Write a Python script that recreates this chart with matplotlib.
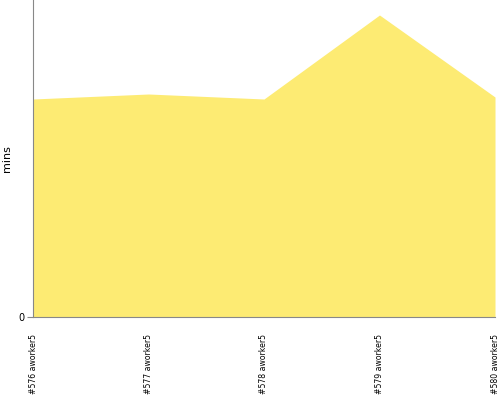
import matplotlib
matplotlib.use("Agg")
import matplotlib.pyplot as plt

# build runs and their durations (mins)
builds = ["#576 aworker5", "#577 aworker5", "#578 aworker5", "#579 aworker5", "#580 aworker5"]
mins = [21.8, 22.3, 21.8, 30.2, 22.0]
y_top = 31.7

fig = plt.figure(figsize=(5, 4), dpi=100)
ax = fig.add_axes([0.066, 0.2075, 0.924, 0.7925])

x = list(range(len(builds)))
ax.fill_between(x, mins, 0, color="#fdeb73", linewidth=0)

ax.set_xlim(0, len(builds) - 1)
ax.set_ylim(0, y_top)
ax.set_xticks(x)
ax.set_xticklabels(builds, rotation=90, fontsize=5.6)
ax.set_yticks([0])
ax.set_yticklabels(["0"], fontsize=7)
ax.set_ylabel("mins", fontsize=8, labelpad=5)

for side in ["top", "right"]:
    ax.spines[side].set_visible(False)
for side in ["left", "bottom"]:
    ax.spines[side].set_color("#888888")
ax.tick_params(axis="x", length=0, pad=12)
ax.tick_params(axis="y", length=4, color="#888888", pad=2)

fig.savefig("out.png", dpi=100)
